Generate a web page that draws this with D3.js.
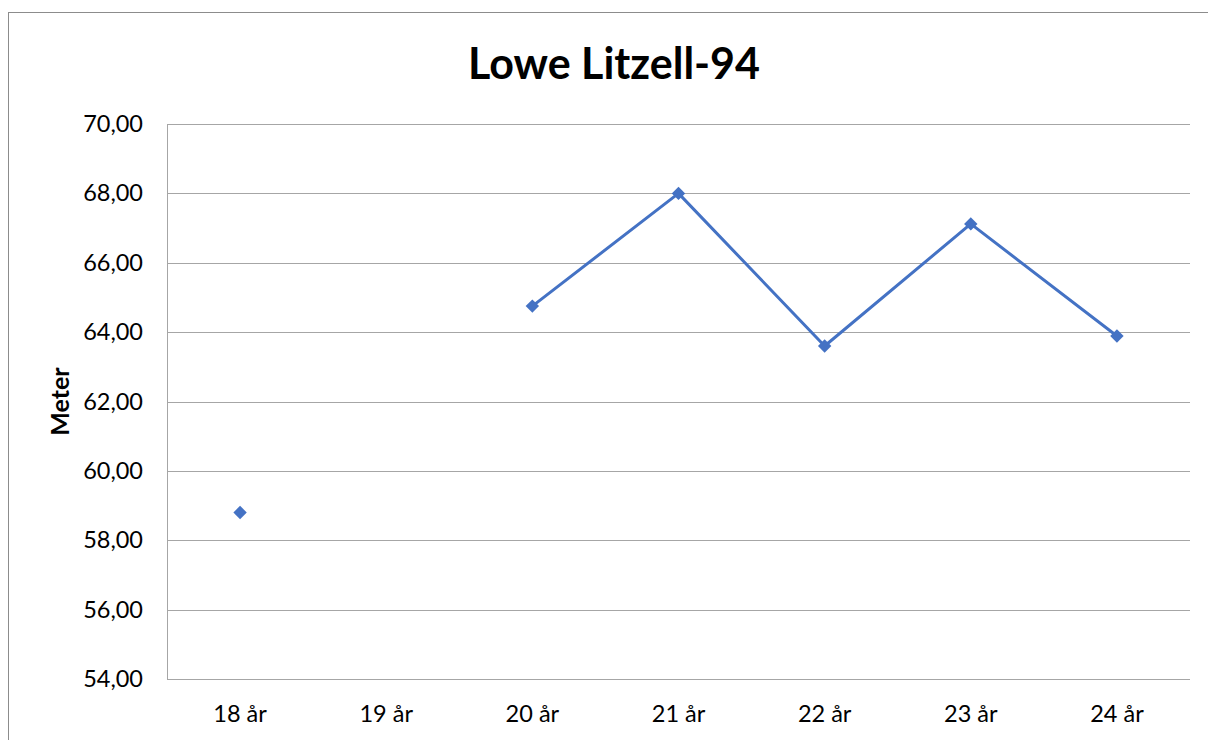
<!DOCTYPE html>
<html>
<head>
<meta charset="utf-8">
<script src="https://cdn.jsdelivr.net/npm/d3@7"></script>
<style>
  body { margin: 0; background: #fff; }
  text { font-family: Lato, "Noto Sans", sans-serif; fill: #000; }
</style>
</head>
<body>
<div id="chart"></div>
<script>
// Chart data
var categories = ["18 år", "19 år", "20 år", "21 år", "22 år", "23 år", "24 år"];
var values = [58.80, null, 64.75, 68.00, 63.60, 67.12, 63.89];
var yTicks = [54, 56, 58, 60, 62, 64, 66, 68, 70];
var chartTitle = "Lowe Litzell-94";
var yTitle = "Meter";

var svgWidth = 1208;
var svgHeight = 740;

var margin = { top: 124, right: 18, bottom: 61, left: 167 };
var width = svgWidth - margin.left - margin.right;
var height = svgHeight - margin.top - margin.bottom;

var svg = d3.select("#chart")
  .append("svg")
  .attr("width", svgWidth)
  .attr("height", svgHeight);

// outer chart border (runs past the right and bottom edge)
svg.append("rect")
  .attr("x", 8.5)
  .attr("y", 12.5)
  .attr("width", 1250)
  .attr("height", 800)
  .attr("fill", "none")
  .attr("stroke", "#8c8c8c")
  .attr("stroke-width", 1);

var chartGroup = svg.append("g")
  .attr("transform", `translate(${margin.left}, ${margin.top})`);

var xScale = d3.scaleBand()
  .domain(categories)
  .range([0, width]);

var yScale = d3.scaleLinear()
  .domain([54, 70])
  .range([height, 0]);

// gridlines
chartGroup.selectAll(".grid")
  .data(yTicks)
  .enter()
  .append("line")
  .attr("x1", 0)
  .attr("x2", width)
  .attr("y1", d => Math.round(yScale(d)) + 0.5)
  .attr("y2", d => Math.round(yScale(d)) + 0.5)
  .attr("stroke", "#a6a6a6")
  .attr("stroke-width", 1);

// left axis line
chartGroup.append("line")
  .attr("x1", 0.5).attr("x2", 0.5)
  .attr("y1", 0).attr("y2", height)
  .attr("stroke", "#a6a6a6");

// y axis
var leftAxis = d3.axisLeft(yScale)
  .tickValues(yTicks)
  .tickSize(0)
  .tickPadding(24)
  .tickFormat(d => d3.format(".2f")(d).replace(".", ","));

chartGroup.append("g")
  .call(leftAxis)
  .call(g => g.select(".domain").remove())
  .selectAll("text")
  .style("font-size", "23.5px")
  .attr("fill", "#000");

// x axis
var bottomAxis = d3.axisBottom(xScale)
  .tickSize(0)
  .tickPadding(26);

chartGroup.append("g")
  .attr("transform", `translate(0, ${height})`)
  .call(bottomAxis)
  .call(g => g.select(".domain").remove())
  .selectAll("text")
  .style("font-size", "23.5px")
  .attr("fill", "#000");

var points = categories.map((c, i) => ({ cat: c, value: values[i] }));

// line with gap for missing value
var line = d3.line()
  .defined(d => d.value !== null)
  .x(d => xScale(d.cat) + xScale.bandwidth() / 2)
  .y(d => yScale(d.value));

chartGroup.append("path")
  .datum(points)
  .attr("d", line)
  .attr("fill", "none")
  .attr("stroke", "#4472c4")
  .attr("stroke-width", 3)
  .attr("stroke-linejoin", "round");

// diamond markers
chartGroup.selectAll(".marker")
  .data(points.filter(d => d.value !== null))
  .enter()
  .append("path")
  .attr("d", d3.symbol().type(d3.symbolSquare).size(90))
  .attr("transform", d => `translate(${xScale(d.cat) + xScale.bandwidth() / 2}, ${yScale(d.value)}) rotate(45)`)
  .attr("fill", "#4472c4");

// title
svg.append("text")
  .attr("x", 614)
  .attr("y", 79)
  .attr("text-anchor", "middle")
  .style("font-size", "43px")
  .style("font-weight", "bold")
  .text(chartTitle);

// y axis title
svg.append("text")
  .attr("transform", `translate(69, ${margin.top + height / 2}) rotate(-90)`)
  .attr("text-anchor", "middle")
  .style("font-size", "25px")
  .style("font-weight", "bold")
  .text(yTitle);
</script>
</body>
</html>
